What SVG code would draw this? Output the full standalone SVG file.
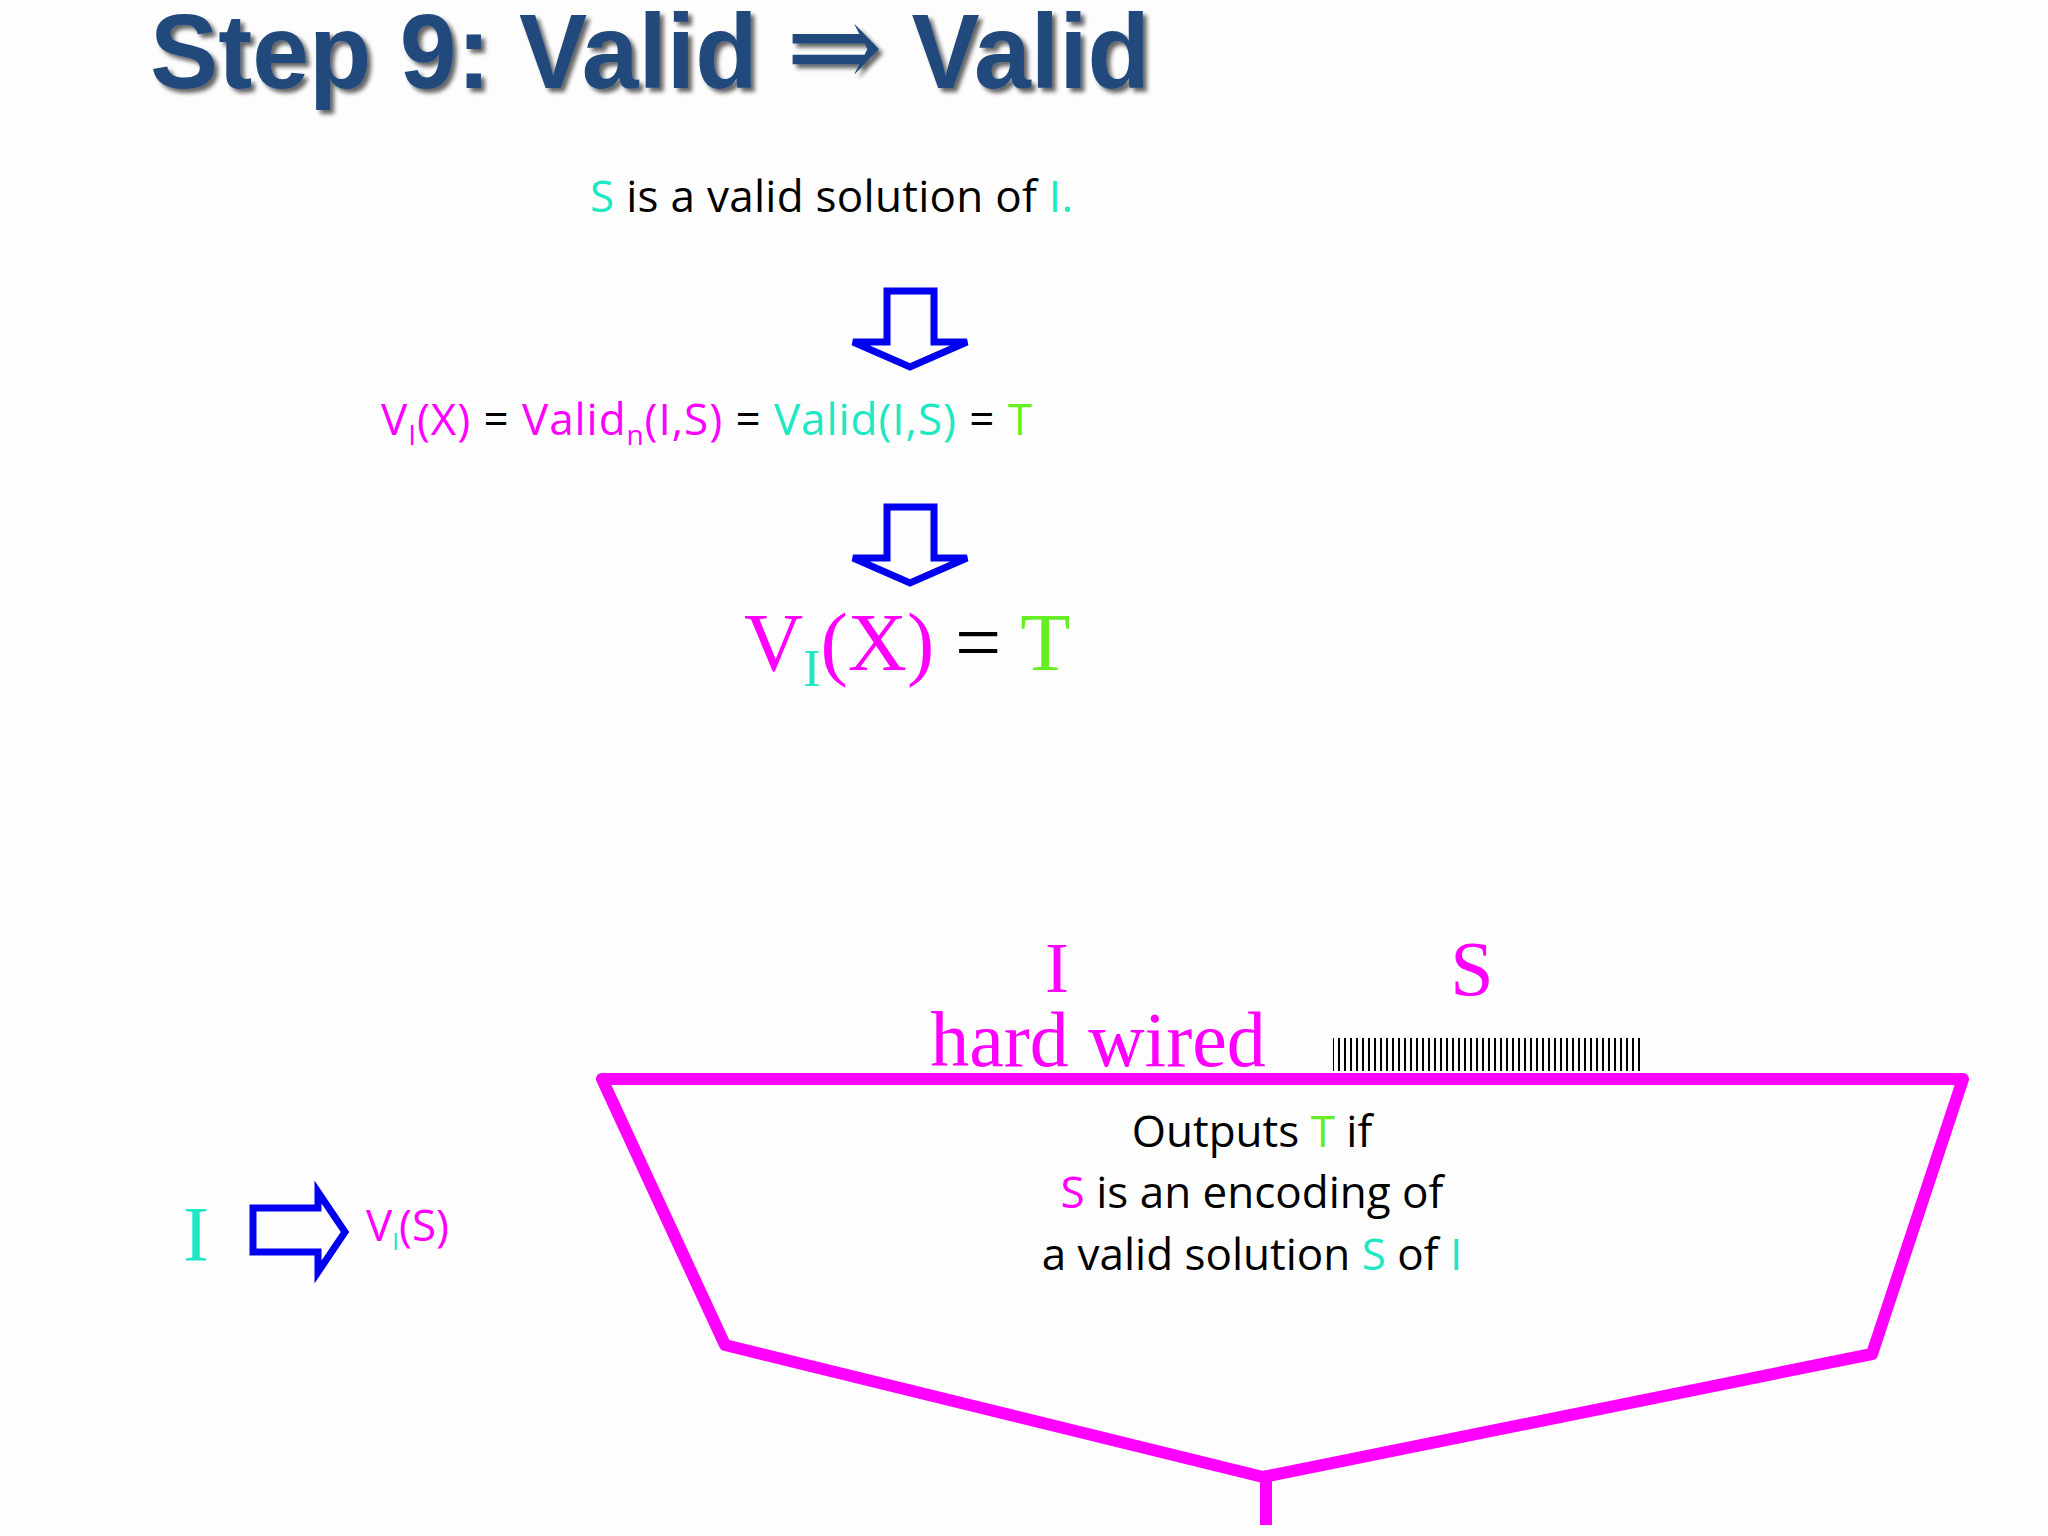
<svg xmlns="http://www.w3.org/2000/svg" width="2048" height="1536" viewBox="0 0 2048 1536">
<style>
.c{font-family:"Open Sans","Noto Sans",sans-serif;font-size:44px;fill:#000}
.t{font-family:"Liberation Serif",serif}
.cy{fill:#1ee8c4}.mg{fill:#ff00ff}.gr{fill:#66ee22}
.arr{fill:none;stroke:#0000ee;stroke-width:7;stroke-linejoin:miter}
</style>
<defs>
<pattern id="hatch" width="6" height="40" patternUnits="userSpaceOnUse"><rect x="0" y="0" width="2" height="40" fill="#000"/></pattern>
<filter id="sh"><feDropShadow dx="4" dy="4" stdDeviation="2" flood-color="#000" flood-opacity="0.6"/></filter>
</defs>
<rect width="2048" height="1536" fill="#fdfdfd"/>
<g id="title"><text x="150" y="88" font-family="Liberation Sans,Arial,sans-serif" font-weight="bold" font-size="106" fill="#234a7c" filter="url(#sh)" textLength="1000" lengthAdjust="spacingAndGlyphs">Step 9: Valid <tspan font-weight="normal" font-family="DejaVu Serif,DejaVu Sans,serif" font-size="120">⇒</tspan> Valid</text></g>
<g id="premise"><text class="c" x="590" y="212" textLength="483"><tspan class="cy">S</tspan> is a valid solution of <tspan class="cy">I.</tspan></text></g>
<g id="connectors">
<path class="arr" d="M887,291 H934 V342 H967 L910,367 L853,342 H887 Z"/>
<path class="arr" d="M887,507 H934 V558 H967 L910,583 L853,558 H887 Z"/>
<path class="arr" d="M253,1208 H318 V1192 L345,1232 L318,1272 V1252 H253 Z"/>
</g>
<g id="equation"><text class="c" x="381" y="435" textLength="651"><tspan class="mg">V</tspan><tspan class="mg" font-size="28" dy="10">I</tspan><tspan class="mg" dy="-10">(X)</tspan> = <tspan class="mg">Valid</tspan><tspan class="mg" font-size="28" dy="10">n</tspan><tspan class="mg" dy="-10">(I,S)</tspan> = <tspan class="cy">Valid(I,S)</tspan> = <tspan class="gr">T</tspan></text></g>
<g id="result"><text class="t" x="744" y="670" font-size="82"><tspan class="mg">V</tspan><tspan class="cy" font-size="52" dy="16">I</tspan><tspan class="mg" dy="-16">(X)</tspan> = <tspan class="gr">T</tspan></text></g>
<g id="circuit">
<polygon points="602,1079 1963,1079 1872,1354 1263,1477 725,1345" fill="none" stroke="#ff00ff" stroke-width="12" stroke-linejoin="round"/>
<line x1="1266" y1="1477" x2="1266" y2="1525" stroke="#ff00ff" stroke-width="12"/>
<rect x="1333" y="1038" width="308" height="33" fill="url(#hatch)"/>
<text class="t mg" x="1057" y="992" font-size="72" text-anchor="middle">I</text>
<text class="t mg" x="1472" y="995" font-size="78" text-anchor="middle">S</text>
<text class="t mg" x="1098" y="1066" font-size="78" text-anchor="middle">hard wired</text>
<text class="c" x="1252" y="1147" text-anchor="middle">Outputs <tspan class="gr">T</tspan> if</text>
<text class="c" x="1252" y="1208" text-anchor="middle"><tspan class="mg">S</tspan> is an encoding of</text>
<text class="c" x="1252" y="1270" text-anchor="middle">a valid solution <tspan class="cy">S</tspan> of <tspan class="cy">I</tspan></text>
</g>
<g id="left">
<text class="t cy" x="196" y="1260" font-size="78" text-anchor="middle">I</text>
<text class="c" x="366" y="1241" font-size="40"><tspan class="mg">V</tspan><tspan class="cy" font-size="24" dy="9">I</tspan><tspan class="mg" dy="-9">(S)</tspan></text>
</g>
</svg>
